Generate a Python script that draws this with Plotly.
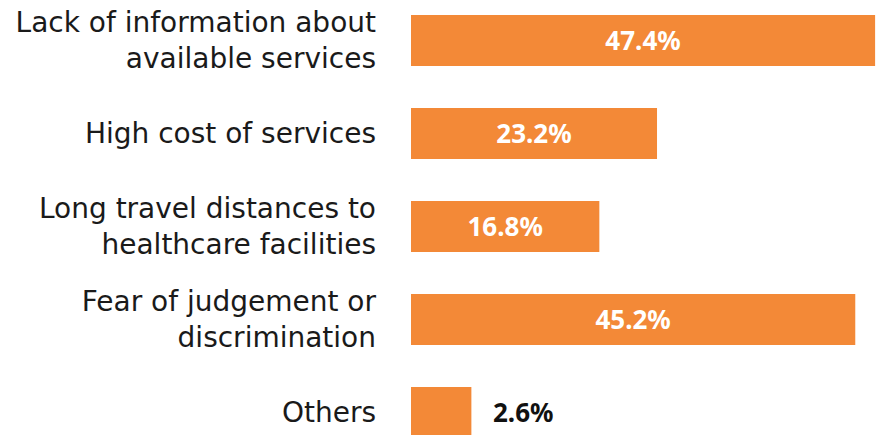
import plotly.graph_objects as go

# Survey responses: barriers to accessing services (% of respondents)
categories = [
    "Lack of information about<br>available services",
    "High cost of services",
    "Long travel distances to<br>healthcare facilities",
    "Fear of judgement or<br>discrimination",
    "Others",
]
values = [47.4, 23.2, 16.8, 45.2, 2.6]

# Value axis starts slightly below zero; bars grow from the axis start
X_START = -4.1
X_END = 47.5

BAR_COLOR = "#F38937"
LABEL_FONT = "DejaVu Sans"
VALUE_FONT = "Noto Sans"

inside = [v >= 10 for v in values]

fig = go.Figure(
    go.Bar(
        y=categories,
        x=[v - X_START for v in values],
        base=X_START,
        orientation="h",
        marker=dict(color=BAR_COLOR, line=dict(width=0)),
        text=[f"{v}%" if ins else "" for v, ins in zip(values, inside)],
        textposition="inside",
        insidetextanchor="middle",
        textfont=dict(family=VALUE_FONT, size=26, color="white", weight="bold"),
        hoverinfo="skip",
    )
)

# Small bars carry their label just past the bar end
for cat, v, ins in zip(categories, values, inside):
    if not ins:
        fig.add_annotation(
            x=v, y=cat, xref="x", yref="y",
            text=f"<b>{v}%</b>", showarrow=False,
            xanchor="left", xshift=20,
            font=dict(family=VALUE_FONT, size=26, color="#111111"),
        )

fig.update_layout(
    width=876,
    height=435,
    margin=dict(l=411, r=0, t=0, b=0),
    paper_bgcolor="white",
    plot_bgcolor="white",
    bargap=0.45,
    showlegend=False,
    font=dict(family=LABEL_FONT, color="#1a1a1a"),
)
fig.update_xaxes(
    range=[X_START, X_END],
    visible=False,
    showgrid=False,
    zeroline=False,
)
fig.update_yaxes(
    type="category",
    range=[4.242, -0.435],
    showgrid=False,
    zeroline=False,
    showline=False,
    ticks="",
    ticklabelstandoff=34,
    tickfont=dict(family=LABEL_FONT, size=28, color="#1a1a1a"),
)

fig.write_html("out.html")
